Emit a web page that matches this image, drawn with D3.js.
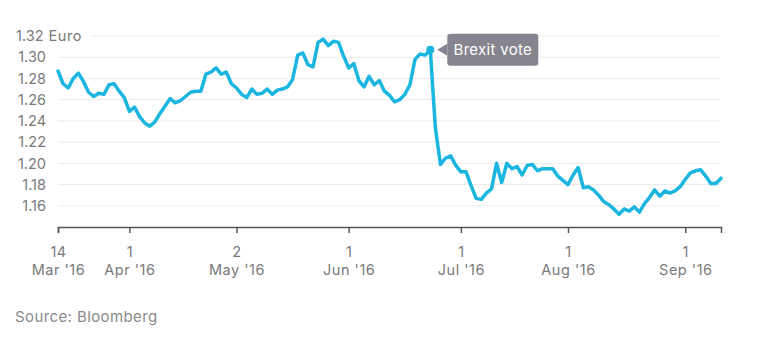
<!DOCTYPE html>
<html>
<head>
<meta charset="utf-8">
<script src="https://cdn.jsdelivr.net/npm/d3@7"></script>
<style>
  html, body { margin: 0; padding: 0; background: #ffffff; }
  svg { display: block; }
  text { font-family: Inter, "Open Sans", sans-serif; }
</style>
</head>
<body>
<svg id="chart" width="768" height="344"></svg>
<script>
// EUR per GBP, one value per weekday from 14 Mar 2016 to 12 Sep 2016
const startDate = "2016-03-14";
const endDate = "2016-09-12";
const rates = [
  1.287, 1.275, 1.271, 1.280, 1.285, 1.277, 1.267, 1.263, 1.266, 1.265,
  1.274, 1.275, 1.268, 1.262, 1.249, 1.253, 1.244, 1.238, 1.235, 1.239,
  1.247, 1.254, 1.261, 1.257, 1.259, 1.263, 1.267, 1.268, 1.268, 1.284,
  1.286, 1.290, 1.284, 1.286, 1.275, 1.271, 1.265, 1.262, 1.270, 1.265,
  1.266, 1.270, 1.265, 1.269, 1.270, 1.272, 1.279, 1.302, 1.304, 1.293,
  1.291, 1.314, 1.317, 1.311, 1.315, 1.314, 1.301, 1.290, 1.294, 1.278,
  1.272, 1.282, 1.274, 1.278, 1.268, 1.264, 1.258, 1.260, 1.265, 1.274,
  1.298, 1.303, 1.302, 1.307, 1.233, 1.199, 1.205, 1.207, 1.198, 1.192,
  1.192, 1.179, 1.167, 1.166, 1.172, 1.176, 1.200, 1.182, 1.200, 1.195,
  1.197, 1.189, 1.198, 1.199, 1.193, 1.195, 1.195, 1.195, 1.188, 1.184,
  1.180, 1.189, 1.196, 1.177, 1.178, 1.175, 1.170, 1.164, 1.161, 1.157,
  1.152, 1.157, 1.155, 1.159, 1.154, 1.162, 1.168, 1.175, 1.169, 1.174,
  1.172, 1.174, 1.178, 1.185, 1.191, 1.193, 1.194, 1.188, 1.181, 1.181,
  1.186
];

// y axis
const yTicks = [1.16, 1.18, 1.20, 1.22, 1.24, 1.26, 1.28, 1.30, 1.32];
const yUnit = "Euro";

// x axis
const xTickDates = ["2016-03-14", "2016-04-01", "2016-05-02", "2016-06-01", "2016-07-01", "2016-08-01", "2016-09-01"];
const xTickDays = ["14", "1", "2", "1", "1", "1", "1"];
const xTickMonths = ["Mar '16", "Apr '16", "May '16", "Jun '16", "Jul '16", "Aug '16", "Sep '16"];

// annotation
const noteDate = "2016-06-23";
const noteText = "Brexit vote";
const sourceText = "Source: Bloomberg";

const parse = d3.timeParse("%Y-%m-%d");
const fmt = d3.timeFormat("%Y-%m-%d");

// trading calendar: weekdays only
const days = d3.timeDays(parse(startDate), d3.timeDay.offset(parse(endDate), 1))
  .filter(d => d.getDay() !== 0 && d.getDay() !== 6);
const dayIndex = new Map(days.map((d, i) => [fmt(d), i]));
const data = rates.map((v, i) => ({ i, date: days[i], v }));

const svg = d3.select("#chart");
const plotLeft = 58, plotRight = 721, plotTop = 36, plotBottom = 227;

const x = d3.scaleLinear().domain([0, days.length - 1]).range([plotLeft, plotRight]);
const y = d3.scaleLinear().domain([1.14, 1.32]).range([plotBottom, plotTop]);

const textColor = "#7a7a7a";

// gridlines and y labels
const grid = svg.append("g");
yTicks.forEach((t, k) => {
  const isTop = k === yTicks.length - 1;
  grid.append("line")
    .attr("x1", isTop ? 92 : plotLeft).attr("x2", plotRight)
    .attr("y1", y(t)).attr("y2", y(t))
    .attr("stroke", "#ebebeb").attr("stroke-width", 1);
  const lbl = grid.append("text")
    .attr("x", isTop ? 16 : 46).attr("y", y(t))
    .attr("dy", "0.36em")
    .attr("text-anchor", isTop ? "start" : "end")
    .attr("fill", textColor).attr("font-size", 14.5)
    .text(d3.format(".2f")(t));
  if (isTop) {
    lbl.append("tspan").attr("dx", 5).attr("letter-spacing", 0.6).text(yUnit);
  }
});

// x axis
const tickIdx = xTickDates.map(d => dayIndex.get(d));
const xAxis = d3.axisBottom(x)
  .tickValues(tickIdx)
  .tickSize(6)
  .tickSizeOuter(6)
  .tickFormat("");
const ax = svg.append("g").attr("transform", `translate(0,${plotBottom})`).call(xAxis);
ax.select(".domain").attr("stroke", "#555").attr("stroke-width", 1.5);
ax.selectAll(".tick line").attr("stroke", "#555").attr("stroke-width", 1.5);
ax.selectAll(".tick").each(function (d, k) {
  const t = d3.select(this).append("text")
    .attr("fill", textColor).attr("font-size", 14.5)
    .attr("letter-spacing", 0.5)
    .attr("text-anchor", "middle");
  t.append("tspan").attr("x", 0).attr("y", 30).text(xTickDays[k]);
  t.append("tspan").attr("x", 0).attr("y", 48).text(xTickMonths[k]);
});

// rate line
const line = d3.line().x(d => x(d.i)).y(d => y(d.v));
svg.append("path")
  .datum(data)
  .attr("d", line)
  .attr("fill", "none")
  .attr("stroke", "#1ab6e0")
  .attr("stroke-width", 3.5)
  .attr("stroke-linejoin", "round")
  .attr("stroke-linecap", "round");

// annotation for the referendum
const nd = data[dayIndex.get(noteDate)];
const nx = x(nd.i), ny = y(nd.v);
svg.append("circle").attr("cx", nx).attr("cy", ny).attr("r", 4).attr("fill", "#1ab6e0");

const bx = nx + 17, bw = 91, bh = 32, by = ny - 16;
const note = svg.append("g");
note.append("rect")
  .attr("x", bx).attr("y", by).attr("width", bw).attr("height", bh)
  .attr("rx", 3).attr("fill", "#86848e");
note.append("path")
  .attr("d", `M${bx},${ny - 6} L${nx + 7},${ny} L${bx},${ny + 6} Z`)
  .attr("fill", "#86848e");
note.append("text")
  .attr("x", bx + bw / 2).attr("y", ny)
  .attr("dy", "0.36em")
  .attr("text-anchor", "middle")
  .attr("fill", "#ffffff").attr("font-size", 15)
  .attr("letter-spacing", 0.3)
  .text(noteText);

// source line
svg.append("text")
  .attr("x", 15).attr("y", 322)
  .attr("fill", "#8a8a8a").attr("font-size", 15)
  .attr("letter-spacing", 0.4)
  .text(sourceText);
</script>
</body>
</html>
